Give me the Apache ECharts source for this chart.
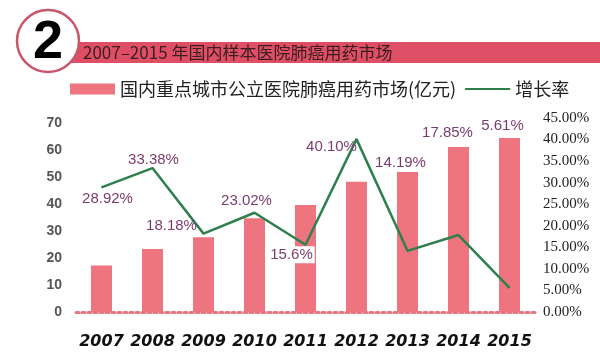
<!DOCTYPE html>
<html>
<head>
<meta charset="utf-8">
<script src="https://cdn.jsdelivr.net/npm/echarts@6/dist/echarts.min.js"></script>
<style>html,body{margin:0;padding:0;background:#fff;}#c{width:600px;height:360px;}</style>
</head>
<body>
<div id="c"></div>
<script>
const categories = ['2007', '2008', '2009', '2010', '2011', '2012', '2013', '2014', '2015'];
const marketValues = [17.3, 23.4, 27.7, 34.8, 39.7, 48.3, 52.0, 61.2, 64.6];
const growthRates = [28.92, 33.38, 18.18, 23.02, 15.6, 40.10, 14.19, 17.85, 5.61];
const growthLabels = ['28.92%', '33.38%', '18.18%', '23.02%', '15.6%', '40.10%', '14.19%', '17.85%', '5.61%'];
const titleText = '2007–2015 年国内样本医院肺癌用药市场';
const barName = '国内重点城市公立医院肺癌用药市场(亿元)';
const lineName = '增长率';

// label placement (style only)
const labelOffsets = [[6, 12], [1, -8], [-32, -8], [-8, -12], [-14, 10], [-25, 8], [-7, -88], [-11, -102], [-7, -162]];

const chart = echarts.init(document.getElementById('c'), null, {renderer: 'canvas'});
const lineData = growthRates.map((v, i) => ({
  value: v,
  label: {
    offset: labelOffsets[i],
    backgroundColor: i === 4 ? '#ffffff' : 'transparent',
    padding: i === 4 ? [1, 2] : 0
  }
}));

chart.setOption({
  animation: false,
  backgroundColor: '#ffffff',
  graphic: [
    {type: 'rect', shape: {x: 60, y: 42, width: 540, height: 21}, style: {fill: '#de4f66'}, z: 10},
    {type: 'circle', shape: {cx: 48, cy: 41, r: 31}, style: {fill: '#ffffff', stroke: '#c9566b', lineWidth: 2.5}, z: 11},
    {type: 'text', x: 48, y: 43, style: {text: '2', font: 'bold 54px "Liberation Sans", Arial, sans-serif', fill: '#000', align: 'center', verticalAlign: 'middle'}, z: 12},
    {type: 'text', x: 83, y: 53, style: {text: titleText, font: '17px "Noto Sans CJK SC", sans-serif', fill: '#3a1e20', align: 'left', verticalAlign: 'middle'}, z: 12}
  ],
  legend: {
    left: 65, top: 75,
    itemWidth: 45, itemHeight: 11, itemGap: 8,
    textStyle: {fontSize: 18, color: '#222', fontFamily: '"Noto Sans CJK SC", sans-serif'},
    data: [
      {name: barName, icon: 'rect'},
      {name: lineName, itemStyle: {opacity: 0}}
    ]
  },
  grid: {left: 76, width: 459, top: 118, bottom: 48},
  xAxis: {
    type: 'category',
    data: categories,
    axisTick: {show: false},
    axisLine: {lineStyle: {color: '#e37784', width: 3, type: 'dotted'}},
    axisLabel: {interval: 0, margin: 22, fontSize: 16, fontStyle: 'italic', fontWeight: 900, color: '#111', fontFamily: '"DejaVu Sans", sans-serif'}
  },
  yAxis: [
    {
      type: 'value', min: 0, max: 72, interval: 10,
      splitLine: {show: false}, axisLine: {show: false}, axisTick: {show: false},
      axisLabel: {margin: 14, fontSize: 14, fontWeight: 'bold', color: '#555', fontFamily: '"Liberation Sans", sans-serif',
        formatter: v => (v % 10 === 0 ? String(v) : '')}
    },
    {
      type: 'value', min: 0, max: 45, interval: 5, position: 'right',
      splitLine: {show: false}, axisLine: {show: false}, axisTick: {show: false},
      axisLabel: {margin: 8, fontSize: 15, color: '#222', fontFamily: '"Liberation Serif", serif',
        formatter: v => v.toFixed(2) + '%'}
    }
  ],
  series: [
    {
      name: barName, type: 'bar', data: marketValues, barWidth: 21,
      itemStyle: {color: '#ee7480'}, yAxisIndex: 0
    },
    {
      name: lineName, type: 'line', yAxisIndex: 1, data: lineData,
      symbol: 'circle', symbolSize: 1, showSymbol: true,
      itemStyle: {color: '#2f7f4c'},
      lineStyle: {color: '#2f7f4c', width: 2.5},
      z: 5,
      label: {
        show: true, position: 'inside',
        formatter: p => growthLabels[p.dataIndex],
        fontSize: 15, color: '#7a3c6e', fontFamily: '"Liberation Sans", sans-serif'
      }
    }
  ]
});
</script>
</body>
</html>
